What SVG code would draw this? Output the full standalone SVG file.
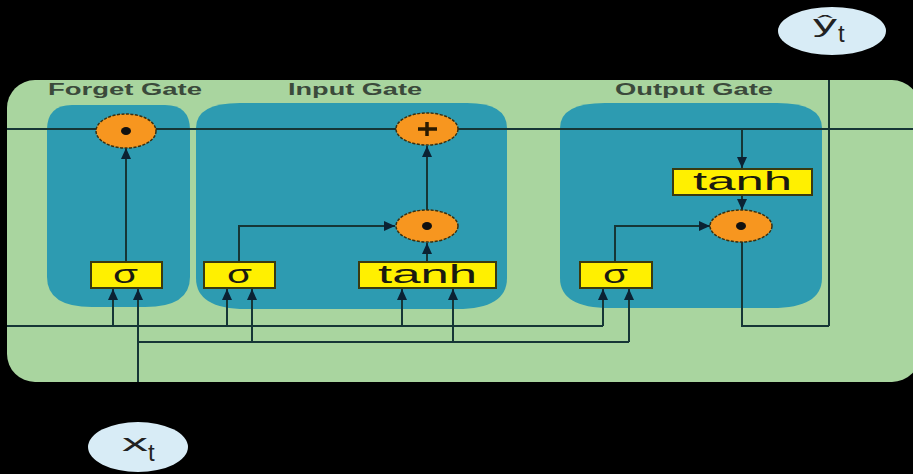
<svg xmlns="http://www.w3.org/2000/svg" width="913" height="474" viewBox="0 0 913 474">
<defs>
<marker id="arr" markerUnits="userSpaceOnUse" markerWidth="12" markerHeight="12" refX="11" refY="6" orient="auto">
<path d="M0,1 L11,6 L0,11 Z" fill="#0b2233"/>
</marker>
<style>
.bg{fill:#000}
.cell{fill:#a9d59f}
.panel{fill:#2d9bb1}
.ln{fill:none;stroke:#163636;stroke-width:2}
.ar{fill:none;stroke:#163636;stroke-width:2;marker-end:url(#arr)}
.op{fill:#f7961f;stroke:#3a3010;stroke-width:1.5;stroke-dasharray:3 1.5}
.dot{fill:#111}
.box{fill:#fff000;stroke:#3a3a10;stroke-width:2}
.lbl{font-family:"Liberation Sans",Arial,sans-serif;font-weight:bold;font-size:16px;fill:#3b4a3b}
.fn{font-family:"Liberation Sans",Arial,sans-serif;font-size:25px;fill:#1a1a10}
.io{fill:#d8ecf6}
.iot{font-family:"Liberation Sans",Arial,sans-serif;font-size:24px;fill:#222}
</style>
</defs>
<rect class="bg" x="0" y="0" width="913" height="474"/>
<rect class="cell" x="7" y="80" width="913" height="302" rx="28" ry="28"/>

<g id="panel-forget">
<path class="panel" d="M47,130 Q47,105 72,105 L165,105 Q190,105 190,130 L190,277 Q190,307 145,307 L92,307 Q47,307 47,277 Z"/>
<text class="lbl" x="48" y="95" textLength="154" lengthAdjust="spacingAndGlyphs">Forget Gate</text>
</g>
<g id="panel-input">
<path class="panel" d="M196,128 Q196,103 240,103 L467,103 Q507,103 507,128 L507,278 Q507,309 457,309 L246,309 Q196,309 196,278 Z"/>
<text class="lbl" x="288" y="95" textLength="134" lengthAdjust="spacingAndGlyphs">Input Gate</text>
</g>
<g id="panel-output">
<path class="panel" d="M560,128 Q560,103 605,103 L777,103 Q822,103 822,128 L822,278 Q822,308 772,308 L610,308 Q560,308 560,278 Z"/>
<text class="lbl" x="615" y="95" textLength="158" lengthAdjust="spacingAndGlyphs">Output Gate</text>
</g>

<g id="connectors">
<line class="ln" x1="7" y1="129" x2="913" y2="129"/>
<line class="ln" x1="829" y1="80" x2="829" y2="326"/>
<!-- forget -->
<line class="ar" x1="126" y1="262" x2="126" y2="148"/>
<!-- input -->
<line class="ar" x1="427" y1="262" x2="427" y2="243"/>
<line class="ar" x1="427" y1="210" x2="427" y2="146"/>
<polyline class="ar" points="239,262 239,226 395,226"/>
<!-- output -->
<line class="ar" x1="742" y1="129" x2="742" y2="168"/>
<line class="ar" x1="742" y1="196" x2="742" y2="210"/>
<polyline class="ar" points="615,262 615,226 710,226"/>
<polyline class="ln" points="742,242 742,326 829,326"/>
<!-- h(t-1) line -->
<line class="ln" x1="7" y1="326" x2="603" y2="326"/>
<line class="ar" x1="113" y1="326" x2="113" y2="289"/>
<line class="ar" x1="227" y1="326" x2="227" y2="289"/>
<line class="ar" x1="402" y1="326" x2="402" y2="289"/>
<line class="ar" x1="603" y1="326" x2="603" y2="289"/>
<!-- x(t) line -->
<line class="ar" x1="138" y1="382" x2="138" y2="289"/>
<line class="ln" x1="138" y1="342" x2="629" y2="342"/>
<line class="ar" x1="252" y1="342" x2="252" y2="289"/>
<line class="ar" x1="453" y1="342" x2="453" y2="289"/>
<line class="ar" x1="629" y1="342" x2="629" y2="289"/>
</g>

<g id="forget-mul">
<ellipse class="op" cx="126" cy="131" rx="30" ry="17"/>
<ellipse class="dot" cx="126" cy="131" rx="5" ry="4"/>
</g>
<g id="input-add">
<ellipse class="op" cx="427" cy="129" rx="31" ry="16"/>
<path d="M418,129 H437 M427,122 V136" stroke="#2a1a00" stroke-width="3.5"/>
</g>
<g id="input-mul">
<ellipse class="op" cx="427" cy="226" rx="31" ry="16"/>
<ellipse class="dot" cx="427" cy="226" rx="5" ry="4"/>
</g>
<g id="output-mul">
<ellipse class="op" cx="741" cy="226" rx="31" ry="16"/>
<ellipse class="dot" cx="741" cy="226" rx="5" ry="4"/>
</g>

<g id="forget-sigma">
<rect class="box" x="91" y="262" width="71" height="26"/>
<text class="fn" x="113" y="283" textLength="25" lengthAdjust="spacingAndGlyphs">σ</text>
</g>
<g id="input-sigma">
<rect class="box" x="204" y="262" width="71" height="26"/>
<text class="fn" x="227" y="283" textLength="25" lengthAdjust="spacingAndGlyphs">σ</text>
</g>
<g id="input-tanh">
<rect class="box" x="359" y="262" width="137" height="26"/>
<text class="fn" x="378" y="283" textLength="99" lengthAdjust="spacingAndGlyphs">tanh</text>
</g>
<g id="output-sigma">
<rect class="box" x="580" y="262" width="72" height="26"/>
<text class="fn" x="603" y="283" textLength="25" lengthAdjust="spacingAndGlyphs">σ</text>
</g>
<g id="output-tanh">
<rect class="box" x="673" y="169" width="139" height="26"/>
<text class="fn" x="693" y="190" textLength="99" lengthAdjust="spacingAndGlyphs">tanh</text>
</g>

<g id="y-hat">
<ellipse class="io" cx="832" cy="31" rx="54" ry="24"/>
<text class="iot" x="813" y="32" textLength="24" lengthAdjust="spacingAndGlyphs">ŷ</text>
<text class="iot" x="838" y="42" font-size="14">t</text>
</g>
<g id="x-t">
<ellipse class="io" cx="138" cy="447" rx="50" ry="25"/>
<text class="iot" x="122" y="451" textLength="26" lengthAdjust="spacingAndGlyphs">x</text>
<text class="iot" x="148" y="461" font-size="14">t</text>
</g>
</svg>
